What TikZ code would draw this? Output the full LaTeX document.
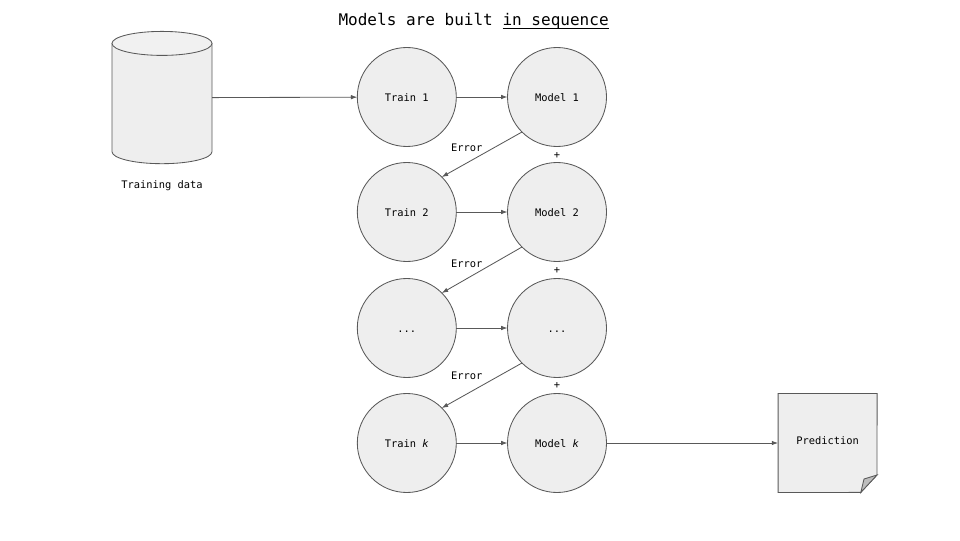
\documentclass[tikz,border=0pt]{standalone}
\usepackage{fontspec}
\setmonofont{DejaVu Sans Mono}
\usetikzlibrary{arrows.meta}
\definecolor{linegray}{HTML}{595959}
\definecolor{bodygray}{HTML}{EEEEEE}
\definecolor{foldgray}{HTML}{BDBDBD}
\tikzset{
  stagenode/.style={circle, draw=linegray, fill=bodygray, line width=0.6pt, minimum size=2.475cm, inner sep=0pt, outer sep=0pt, text height=1.5ex, text depth=0pt, font=\ttfamily\fontsize{7.4}{9}\selectfont},
  flowlabel/.style={font=\ttfamily\fontsize{7.4}{9}\selectfont, inner sep=0pt},
  outline/.style={draw=linegray, line width=0.6pt},
  flow/.style={->, draw=linegray, line width=0.6pt}
}
\begin{document}
\begin{tikzpicture}[>={Latex[length=4.5pt,width=3.2pt]}]
  \useasboundingbox (0,0) rectangle (24,13.5);
  \node[font=\ttfamily\fontsize{11.4}{14}\selectfont, inner sep=0pt] (title) at (11.84,12.97) {Models are built \underline{\smash{in sequence}}};
  % training data store
  \node[minimum width=2.5cm, minimum height=3.29cm, inner sep=0pt, outer sep=0pt] (data) at (4.05,11.06) {};
  \draw[outline, fill=bodygray] (2.8,12.415) -- (2.8,9.7075) arc[start angle=180, end angle=360, x radius=1.25, y radius=0.3] -- (5.3,12.415) -- cycle;
  \draw[outline, fill=bodygray!80!white] (4.05,12.415) ellipse[x radius=1.25, y radius=0.3];
  \node[flowlabel] (datalabel) at (4.05,8.85) {Training data};
  % left column: training steps
  \node[stagenode] (train1) at (10.17,11.075) {Train 1};
  \node[stagenode] (train2) at (10.17,8.2) {Train 2};
  \node[stagenode] (train3) at (10.17,5.3) {...};
  \node[stagenode] (train4) at (10.17,2.425) {Train \textit{k}};
  % right column: models
  \node[stagenode] (model1) at (13.925,11.075) {Model 1};
  \node[stagenode] (model2) at (13.925,8.2) {Model 2};
  \node[stagenode] (model3) at (13.925,5.3) {...};
  \node[stagenode] (model4) at (13.925,2.425) {Model \textit{k}};
  % output document
  \node[minimum size=2.475cm, inner sep=0pt, outer sep=0pt] (pred) at (20.69,2.425) {};
  \draw[outline, fill=bodygray] (pred.north west) -- (pred.north east) -- (21.925,1.625) -- (21.52,1.19) -- (pred.south west) -- cycle;
  \draw[outline, fill=foldgray] (21.925,1.625) -- (21.6,1.525) -- (21.52,1.19) -- cycle;
  \node[flowlabel] (predlabel) at (20.69,2.48) {Prediction};
  % connectors
  \draw[flow] (data.east) -- (train1);
  \draw[flow] (model4) -- (pred);
  \foreach \row in {1,2,3,4}
    \draw[flow] (train\row) -- (model\row);
  \draw[flow] (model1.225) -- (train2.45);
  \draw[flow] (model2.225) -- (train3.45);
  \draw[flow] (model3.225) -- (train4.45);
  % labels between the rows
  \node[flowlabel] (error1) at (11.67,9.8) {Error};
  \node[flowlabel] (error2) at (11.67,6.9) {Error};
  \node[flowlabel] (error3) at (11.67,4.1) {Error};
  \node[flowlabel] (plus1) at (13.925,9.62) {+};
  \node[flowlabel] (plus2) at (13.925,6.74) {+};
  \node[flowlabel] (plus3) at (13.925,3.87) {+};
\end{tikzpicture}
\end{document}
